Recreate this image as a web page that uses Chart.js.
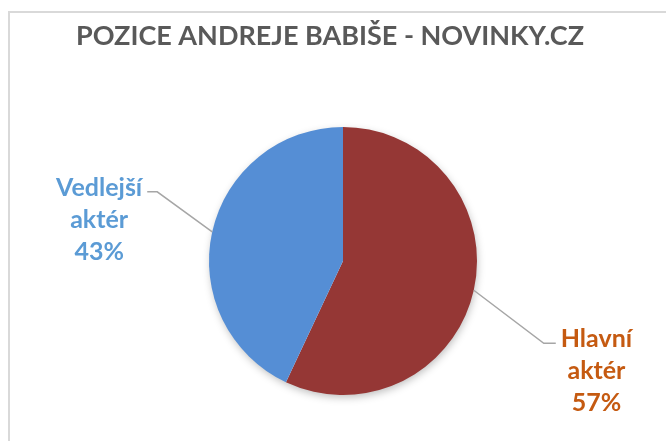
<!DOCTYPE html>
<html>
<head>
<meta charset="utf-8">
<script src="https://cdn.jsdelivr.net/npm/chart.js@4.4.1/dist/chart.umd.min.js"></script>
<style>
  html, body { margin: 0; padding: 0; background: #ffffff; }
  #wrap { position: relative; width: 666px; height: 441px; }
</style>
</head>
<body>
<div id="wrap"><canvas id="c" width="666" height="441"></canvas></div>
<script>
const chartTitle = 'POZICE ANDREJE BABIŠE - NOVINKY.CZ';
const categories = ['Hlavní aktér', 'Vedlejší aktér'];
const labelLines = [['Hlavní', 'aktér'], ['Vedlejší', 'aktér']];
const shares = [57, 43];

const sliceColors = ['#953735', '#558ED5'];
const labelColors = ['#C55A11', '#5B9BD5'];
const FONT = 'Lato, "Open Sans", sans-serif';

const decorPlugin = {
  id: 'decor',
  beforeDraw(chart) {
    const ctx = chart.ctx;
    ctx.save();
    ctx.strokeStyle = '#D9D9D9';
    ctx.lineWidth = 2;
    ctx.beginPath();
    ctx.moveTo(9, 441);
    ctx.lineTo(9, 12);
    ctx.lineTo(666, 12);
    ctx.stroke();
    // title
    ctx.fillStyle = '#595959';
    ctx.font = 'bold 27px ' + FONT;
    ctx.textAlign = 'center';
    ctx.textBaseline = 'alphabetic';
    ctx.fillText(chartTitle, 330, 45);
    ctx.restore();
  },
  beforeDatasetsDraw(chart) {
    const arc = chart.getDatasetMeta(0).data[0];
    if (!arc) return;
    const ctx = chart.ctx;
    ctx.save();
    ctx.shadowColor = 'rgba(0,0,0,0.28)';
    ctx.shadowBlur = 9;
    ctx.shadowOffsetX = 1;
    ctx.shadowOffsetY = 3;
    ctx.fillStyle = '#ffffff';
    ctx.beginPath();
    ctx.arc(arc.x, arc.y, arc.outerRadius - 1, 0, Math.PI * 2);
    ctx.fill();
    ctx.restore();
  },
  afterDatasetsDraw(chart) {
    const meta = chart.getDatasetMeta(0);
    const ctx = chart.ctx;
    const total = shares.reduce((a, b) => a + b, 0);
    // label layout: elbow offsets and text placement relative to the elbow
    const layout = [
      { dx: 70, dy: 53, hx: 12, side: 1 },
      { dx: -55, dy: -40, hx: -10, side: -1 }
    ];
    meta.data.forEach((arc, i) => {
      const mid = (arc.startAngle + arc.endAngle) / 2;
      const r = arc.outerRadius;
      const sx = arc.x + Math.cos(mid) * r;
      const sy = arc.y + Math.sin(mid) * r;
      const L = layout[i];
      const ex = sx + L.dx, ey = sy + L.dy;
      const hx = ex + L.hx;
      ctx.save();
      ctx.strokeStyle = '#A6A6A6';
      ctx.lineWidth = 1.5;
      ctx.beginPath();
      ctx.moveTo(sx, sy);
      ctx.lineTo(ex, ey);
      ctx.lineTo(hx, ey);
      ctx.stroke();
      const lines = labelLines[i].concat([Math.round(shares[i] / total * 100) + '%']);
      ctx.font = 'bold 25px ' + FONT;
      ctx.fillStyle = labelColors[i];
      ctx.textAlign = 'center';
      ctx.textBaseline = 'alphabetic';
      const w = ctx.measureText(lines[0]).width;
      const cx = L.side > 0 ? hx + 5 + w / 2 : hx - 5 - w / 2;
      lines.forEach((t, k) => {
        ctx.fillText(t, cx, ey + 4 + k * 32);
      });
      ctx.restore();
    });
  }
};

new Chart(document.getElementById('c'), {
  type: 'pie',
  data: {
    labels: categories,
    datasets: [{
      data: shares,
      backgroundColor: sliceColors,
      borderWidth: 0,
      hoverOffset: 0
    }]
  },
  options: {
    responsive: false,
    animation: false,
    layout: { padding: { left: 209, right: 189, top: 127, bottom: 46 } },
    plugins: {
      legend: { display: false },
      title: { display: false },
      tooltip: { enabled: false }
    }
  },
  plugins: [decorPlugin]
});
</script>
</body>
</html>
